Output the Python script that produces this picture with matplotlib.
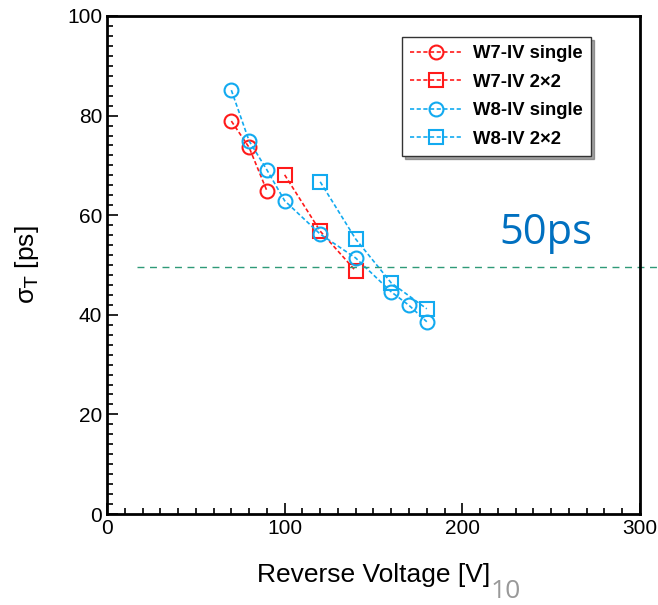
import numpy as np
import matplotlib.pyplot as plt
from matplotlib.ticker import MultipleLocator

plt.rcParams['font.family'] = ['Liberation Sans', 'DejaVu Sans']

# W7 / W8 timing resolution vs reverse voltage
w7_single_v = [70, 80, 90]
w7_single_s = [78.9, 73.6, 64.9]
w7_2x2_v = [100, 120, 140]
w7_2x2_s = [68.1, 56.8, 48.8]
w8_single_v = [70, 80, 90, 100, 120, 140, 160, 170, 180]
w8_single_s = [85.1, 74.9, 69.1, 62.9, 56.2, 51.4, 44.6, 41.9, 38.6]
w8_2x2_v = [120, 140, 160, 180]
w8_2x2_s = [66.7, 55.2, 46.4, 41.2]

target = 49.6
target_x = [17, 311]

red = '#ff1a1a'
blue = '#12aaf0'

fig = plt.figure(figsize=(6.58, 6.05), dpi=100)
ax = fig.add_axes([0.1626, 0.1504, 0.81, 0.8232])

kw = dict(linestyle=(0, (2.5, 1.5)), linewidth=1.2, markersize=10,
          markerfacecolor='none', markeredgewidth=1.5)
ax.plot(w7_single_v, w7_single_s, color=red, marker='o', label='W7-IV single', **kw)
ax.plot(w7_2x2_v, w7_2x2_s, color=red, marker='s', label='W7-IV 2×2', **kw)
ax.plot(w8_single_v, w8_single_s, color=blue, marker='o', label='W8-IV single', **kw)
ax.plot(w8_2x2_v, w8_2x2_s, color=blue, marker='s', label='W8-IV 2×2', **kw)

ax.plot(target_x, [target, target], color='#2f9a78', linewidth=1,
        linestyle=(0, (5, 4)), clip_on=False)
ax.text(221, 56.5, '50ps', color='#0070c0', fontsize=30,
        family=['Open Sans', 'DejaVu Sans'], va='center')

ax.set_xlim(0, 300)
ax.set_ylim(0, 100)
ax.xaxis.set_major_locator(MultipleLocator(100))
ax.xaxis.set_minor_locator(MultipleLocator(10))
ax.yaxis.set_major_locator(MultipleLocator(20))
ax.yaxis.set_minor_locator(MultipleLocator(2))
ax.tick_params(which='both', direction='in', labelsize=15, width=1.2)
ax.tick_params(which='major', length=8)
ax.tick_params(which='minor', length=4)
for s in ax.spines.values():
    s.set_linewidth(2)

ax.set_xlabel('Reverse Voltage [V]', fontsize=19, labelpad=18)
ax.set_ylabel(r'σ$_\mathrm{T}$ [ps]', fontsize=19, labelpad=19)

leg = ax.legend(loc='upper left', bbox_to_anchor=(0.611, 0.939),
                bbox_transform=fig.transFigure, borderaxespad=0,
                fancybox=False, shadow=True,
                framealpha=1, edgecolor='#333333', numpoints=1,
                handlelength=2.8, handletextpad=0.6, labelspacing=0.62,
                borderpad=0.45, prop={'size': 13.3, 'weight': 'bold'})
leg.get_frame().set_linewidth(1)

fig.text(0.768, 0.002, '10', color='#999999', fontsize=19,
         family=['Open Sans', 'DejaVu Sans'], ha='center', va='bottom')

fig.savefig('out.png', dpi=100)
